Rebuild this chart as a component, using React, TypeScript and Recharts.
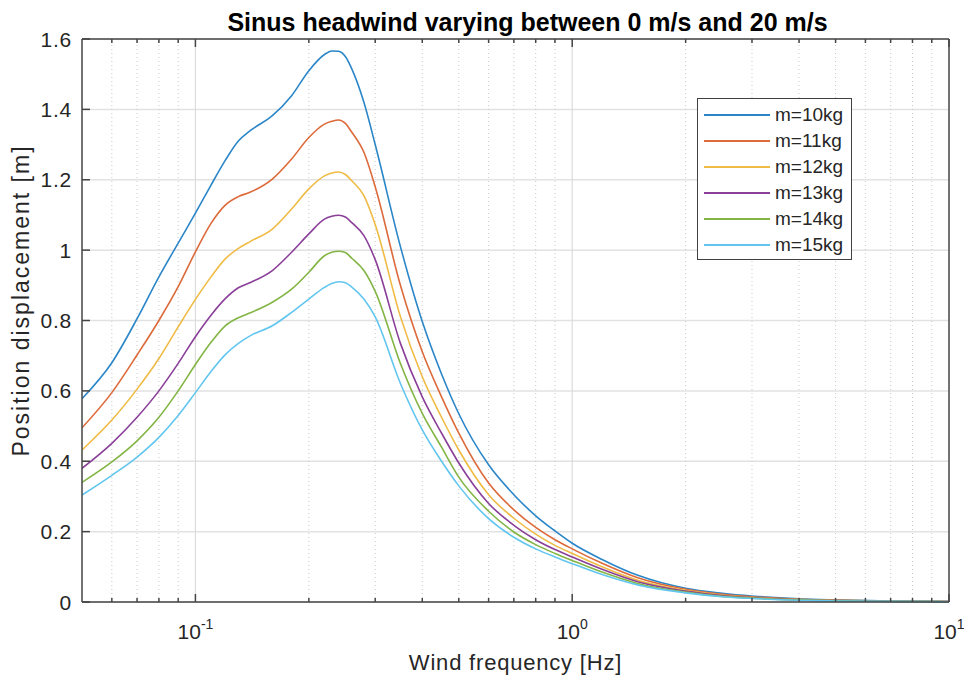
import React from "react";
import {
  LineChart,
  Line,
  XAxis,
  YAxis,
  CartesianGrid,
  ReferenceLine,
  Legend,
  Label,
} from "recharts";

// Sinus headwind response — position displacement vs wind frequency (log x)

const FONT = '"Liberation Sans", Arial, Helvetica, sans-serif';
const INK = "#262626";
const AXIS = "#454545";

// frequencies [Hz]
const freq = [
  0.05, 0.06, 0.07, 0.08, 0.09, 0.1, 0.11, 0.12, 0.13, 0.14, 0.16, 0.18, 0.2,
  0.22, 0.23, 0.24, 0.25, 0.26, 0.28, 0.3, 0.35, 0.4, 0.45, 0.5, 0.6, 0.7, 0.8,
  0.9, 1, 1.2, 1.5, 2, 2.5, 3, 4, 5, 7, 10,
];

// displacement [m] per mass
const m10 = [
  0.578, 0.68, 0.805, 0.924, 1.02, 1.105, 1.185, 1.255, 1.31, 1.34, 1.382,
  1.439, 1.51, 1.556, 1.566, 1.565, 1.55, 1.515, 1.42, 1.3, 1.01, 0.797, 0.648,
  0.535, 0.39, 0.305, 0.245, 0.202, 0.167, 0.121, 0.075, 0.039, 0.025, 0.017,
  0.009, 0.006, 0.003, 0.0015,
];
const m11 = [
  0.495, 0.595, 0.702, 0.8, 0.896, 0.995, 1.076, 1.128, 1.152, 1.165, 1.202,
  1.259, 1.32, 1.358, 1.366, 1.37, 1.36, 1.335, 1.278, 1.18, 0.9, 0.711, 0.583,
  0.48, 0.338, 0.262, 0.212, 0.177, 0.151, 0.11, 0.068, 0.036, 0.022, 0.015,
  0.008, 0.005, 0.0027, 0.0013,
];
const m12 = [
  0.432, 0.517, 0.605, 0.692, 0.782, 0.86, 0.924, 0.975, 1.005, 1.025, 1.06,
  1.117, 1.174, 1.211, 1.219, 1.222, 1.215, 1.197, 1.155, 1.073, 0.811, 0.64,
  0.525, 0.432, 0.305, 0.238, 0.193, 0.161, 0.138, 0.1, 0.061, 0.033, 0.02,
  0.013, 0.007, 0.0045, 0.0024, 0.0012,
];
const m13 = [
  0.38, 0.451, 0.525, 0.6, 0.678, 0.754, 0.815, 0.862, 0.893, 0.908, 0.942,
  0.994, 1.046, 1.088, 1.096, 1.099, 1.094, 1.078, 1.041, 0.973, 0.735, 0.583,
  0.48, 0.395, 0.28, 0.218, 0.177, 0.149, 0.128, 0.093, 0.057, 0.031, 0.018,
  0.012, 0.006, 0.004, 0.0021, 0.001,
];
const m14 = [
  0.34, 0.398, 0.458, 0.525, 0.6, 0.675, 0.738, 0.785, 0.808, 0.822, 0.852,
  0.889, 0.937, 0.984, 0.994, 0.997, 0.993, 0.977, 0.942, 0.883, 0.678, 0.536,
  0.44, 0.355, 0.258, 0.199, 0.163, 0.138, 0.118, 0.085, 0.052, 0.028, 0.016,
  0.011, 0.006, 0.0035, 0.0019, 0.0009,
];
const m15 = [
  0.304, 0.36, 0.412, 0.468, 0.53, 0.595, 0.655, 0.703, 0.735, 0.757, 0.785,
  0.823, 0.861, 0.894, 0.905, 0.91, 0.907, 0.895, 0.861, 0.81, 0.621, 0.489,
  0.4, 0.33, 0.237, 0.184, 0.151, 0.128, 0.109, 0.078, 0.048, 0.026, 0.015,
  0.01, 0.005, 0.003, 0.0017, 0.0008,
];

const majorX = [0.1, 1, 10];
const minorX = [
  0.06, 0.07, 0.08, 0.09, 0.2, 0.3, 0.4, 0.5, 0.6, 0.7, 0.8, 0.9, 2, 3, 4, 5,
  6, 7, 8, 9,
];
const xTicks = [...minorX, ...majorX].sort((a, b) => a - b);
const yTicks = [0, 0.2, 0.4, 0.6, 0.8, 1, 1.2, 1.4, 1.6];

const series = [
  { key: "m10", name: "m=10kg", color: "#2b86c8", values: m10 },
  { key: "m11", name: "m=11kg", color: "#dc6a3a", values: m11 },
  { key: "m12", name: "m=12kg", color: "#efbb45", values: m12 },
  { key: "m13", name: "m=13kg", color: "#8a3f98", values: m13 },
  { key: "m14", name: "m=14kg", color: "#83b545", values: m14 },
  { key: "m15", name: "m=15kg", color: "#62c6ef", values: m15 },
];

const data = freq.map((f, i) => {
  const row: Record<string, number> = { f };
  series.forEach((s) => (row[s.key] = s.values[i]));
  return row;
});

function BottomTick({ x, y, payload }: any) {
  const v = payload.value;
  const major = majorX.includes(v);
  return (
    <g>
      <line x1={x} y1={y} x2={x} y2={y - (major ? 8 : 4)} stroke={AXIS} strokeWidth={1.5} />
      {major && (
        <text x={x} y={y + 37} textAnchor="middle" fill={INK} fontFamily={FONT} fontSize={21}>
          10
          <tspan dy={-10} fontSize={14}>
            {Math.round(Math.log10(v))}
          </tspan>
        </text>
      )}
    </g>
  );
}

function TopTick({ x, y, payload }: any) {
  const major = majorX.includes(payload.value);
  return <line x1={x} y1={y} x2={x} y2={y + (major ? 8 : 4)} stroke={AXIS} strokeWidth={1.5} />;
}

function LeftTick({ x, y, payload }: any) {
  return (
    <g>
      <line x1={x} y1={y} x2={x + 8} y2={y} stroke={AXIS} strokeWidth={1.5} />
      <text
        x={x - 10}
        y={y}
        dy="0.36em"
        textAnchor="end"
        fill={INK}
        fontFamily={FONT}
        fontSize={21}
        letterSpacing={0.8}
      >
        {String(payload.value)}
      </text>
    </g>
  );
}

function RightTick({ x, y }: any) {
  return <line x1={x} y1={y} x2={x - 8} y2={y} stroke={AXIS} strokeWidth={1.5} />;
}

function TitleLabel({ viewBox }: any) {
  return (
    <text
      x={viewBox.x + viewBox.width / 2 + 12}
      y={viewBox.y + viewBox.height - 8}
      textAnchor="middle"
      fill="#000"
      fontFamily={FONT}
      fontSize={25}
      fontWeight="bold"
    >
      Sinus headwind varying between 0 m/s and 20 m/s
    </text>
  );
}

function XTitle({ viewBox }: any) {
  return (
    <text
      x={viewBox.x + viewBox.width / 2}
      y={viewBox.y + 68}
      textAnchor="middle"
      fill={INK}
      fontFamily={FONT}
      fontSize={22}
      letterSpacing={0.8}
    >
      Wind frequency [Hz]
    </text>
  );
}

function YTitle({ viewBox }: any) {
  const cx = 21;
  const cy = viewBox.y + viewBox.height / 2 - 20;
  return (
    <text
      x={cx}
      y={cy}
      dy="0.36em"
      transform={`rotate(-90 ${cx} ${cy})`}
      textAnchor="middle"
      fill={INK}
      fontFamily={FONT}
      fontSize={23}
      letterSpacing={2}
    >
      Position displacement [m]
    </text>
  );
}

function LegendBox({ payload }: any) {
  return (
    <div
      style={{
        width: 155,
        height: 162,
        boxSizing: "border-box",
        border: "1.5px solid #404040",
        background: "#fff",
        paddingTop: 3,
        fontFamily: FONT,
        fontSize: 19,
        color: INK,
      }}
    >
      {(payload || []).map((item: any) => (
        <div key={item.value} style={{ display: "flex", alignItems: "center", height: 26 }}>
          <span
            style={{
              display: "inline-block",
              width: 66,
              marginLeft: 6,
              marginRight: 5,
              borderTop: `2px solid ${item.color}`,
            }}
          />
          <span>{item.value}</span>
        </div>
      ))}
    </div>
  );
}

export default function App() {
  return (
    <div style={{ width: 964, height: 677, background: "#fff" }}>
      <style>{`body{margin:0;background:#fff}`}</style>
      <LineChart
        width={964}
        height={677}
        data={data}
        margin={{ top: 9, right: 0, bottom: 0, left: 0 }}
      >
        <CartesianGrid vertical={false} stroke="#e2e2e2" strokeWidth={1.5} />

        {minorX.map((v) => (
          <ReferenceLine key={`mn${v}`} x={v} stroke="#c8c8c8" strokeDasharray="1 3" />
        ))}
        {majorX.slice(0, 2).map((v) => (
          <ReferenceLine key={`mj${v}`} x={v} stroke="#dcdcdc" strokeWidth={1.2} />
        ))}

        <XAxis
          dataKey="f"
          type="number"
          scale="log"
          domain={[0.05, 10]}
          allowDataOverflow
          ticks={xTicks}
          interval={0}
          height={75}
          tickSize={0}
          tickMargin={0}
          tickLine={false}
          axisLine={{ stroke: AXIS, strokeWidth: 1.5 }}
          tick={<BottomTick />}
        >
          <Label content={<XTitle />} />
        </XAxis>
        <XAxis
          xAxisId="top"
          orientation="top"
          dataKey="f"
          type="number"
          scale="log"
          domain={[0.05, 10]}
          allowDataOverflow
          ticks={xTicks}
          interval={0}
          height={30}
          tickSize={0}
          tickMargin={0}
          tickLine={false}
          axisLine={{ stroke: AXIS, strokeWidth: 1.5 }}
          tick={<TopTick />}
        >
          <Label content={<TitleLabel />} />
        </XAxis>

        <YAxis
          type="number"
          domain={[0, 1.6]}
          ticks={yTicks}
          interval={0}
          width={82}
          tickSize={0}
          tickMargin={0}
          tickLine={false}
          axisLine={{ stroke: AXIS, strokeWidth: 1.5 }}
          tick={<LeftTick />}
        >
          <Label content={<YTitle />} />
        </YAxis>
        <YAxis
          yAxisId="right"
          orientation="right"
          type="number"
          domain={[0, 1.6]}
          ticks={yTicks}
          interval={0}
          width={15}
          tickSize={0}
          tickMargin={0}
          tickLine={false}
          axisLine={{ stroke: AXIS, strokeWidth: 1.5 }}
          tick={<RightTick />}
        />

        <Legend
          layout="horizontal"
          verticalAlign="middle"
          align="center"
          content={<LegendBox />}
          wrapperStyle={{ position: "absolute", left: 697, top: 98, width: 155, height: 162 }}
        />

        {series.map((s) => (
          <Line
            key={s.key}
            type="monotone"
            dataKey={s.key}
            name={s.name}
            stroke={s.color}
            strokeWidth={1.6}
            dot={false}
            activeDot={false}
            isAnimationActive={false}
          />
        ))}
      </LineChart>
    </div>
  );
}
